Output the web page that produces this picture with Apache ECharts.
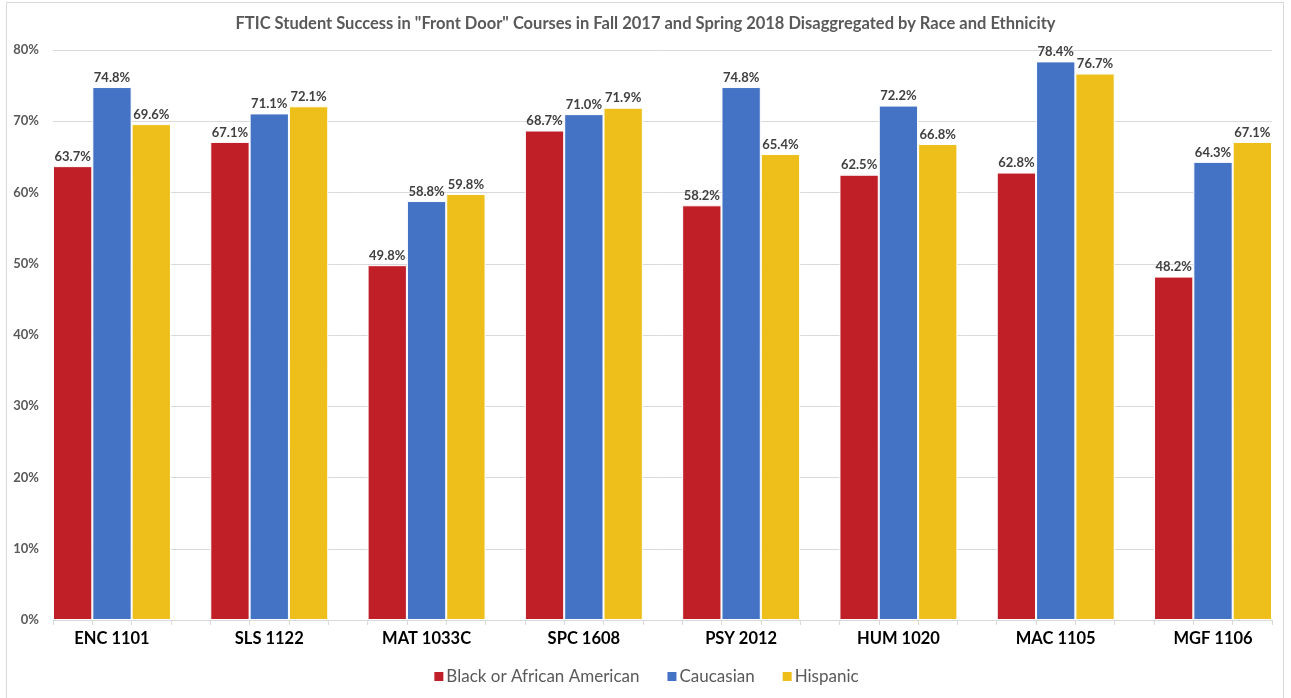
<!DOCTYPE html>
<html>
<head>
<meta charset="utf-8">
<script src="https://cdn.jsdelivr.net/npm/echarts@6/dist/echarts.min.js"></script>
<style>
  html, body { margin: 0; padding: 0; background: #fff; }
  #box { position: absolute; left: 6px; top: 2px; width: 1278px; height: 700px; border: 1px solid #d9d9d9; box-sizing: border-box; }
  #chart { position: absolute; left: 0; top: 0; width: 1291px; height: 698px; }
</style>
</head>
<body>
<div id="box"></div>
<div id="chart"></div>
<script>
const courses = ['ENC 1101', 'SLS 1122', 'MAT 1033C', 'SPC 1608', 'PSY 2012', 'HUM 1020', 'MAC 1105', 'MGF 1106']
const black = [63.7, 67.1, 49.8, 68.7, 58.2, 62.5, 62.8, 48.2]
const caucasian = [74.8, 71.1, 58.8, 71.0, 74.8, 72.2, 78.4, 64.3]
const hispanic = [69.6, 72.1, 59.8, 71.9, 65.4, 66.8, 76.7, 67.1]

const names = ['Black or African American', 'Caucasian', 'Hispanic']
const colors = ['#C11F28', '#4472C4', '#EEBF1B']
const font = 'Lato, "Open Sans", sans-serif'

// each course takes 4 slots on the axis: three bars and an empty one (last course has no empty slot)
const slots = []
courses.forEach((c, i) => {
  slots.push('', c, '')
  if (i < courses.length - 1) slots.push(' ')
})

// put a series' values into its own slot of each course
const spread = (values, offset) => slots.map((s, idx) => {
  const course = Math.floor(idx / 4)
  return idx % 4 === offset ? values[course] : null
})

const chart = echarts.init(document.getElementById('chart'))

const makeSeries = (name, values, offset, color) => ({
  name,
  type: 'bar',
  stack: 'slot',
  data: spread(values, offset),
  barCategoryGap: '0%',
  itemStyle: { color, borderColor: '#fff', borderWidth: 1 },
  label: {
    show: true,
    position: 'top',
    distance: 3,
    formatter: (p) => (p.value == null ? '' : p.value.toFixed(1) + '%'),
    color: '#404040',
    fontFamily: font,
    fontWeight: 'bold',
    fontSize: 13,
  },
})

chart.setOption({
  animation: false,
  title: {
    text: 'FTIC Student Success in "Front Door" Courses in Fall 2017 and Spring 2018 Disaggregated by Race and Ethnicity',
    left: 'center',
    top: 10,
    textStyle: { color: '#595959', fontFamily: font, fontWeight: 'bold', fontSize: 16.5 },
  },
  legend: {
    bottom: 8,
    left: 'center',
    itemWidth: 11,
    itemHeight: 11,
    itemGap: 26,
    icon: 'rect',
    textStyle: { color: '#595959', fontFamily: font, fontSize: 17, padding: [0, 0, 0, -3] },
    data: names,
  },
  grid: { left: 53, right: 19, top: 50, bottom: 78, containLabel: false },
  xAxis: {
    type: 'category',
    data: slots,
    axisLine: { lineStyle: { color: '#d9d9d9' } },
    axisTick: { show: true, interval: 0, length: 5, lineStyle: { color: '#d9d9d9' } },
    axisLabel: { interval: 0, color: '#000', fontFamily: font, fontWeight: 'bold', fontSize: 16.5, margin: 10 },
  },
  yAxis: {
    type: 'value',
    min: 0,
    max: 80,
    interval: 10,
    axisLabel: { formatter: '{value}%', color: '#595959', fontFamily: font, fontWeight: 'bold', fontSize: 13, margin: 14 },
    axisLine: { show: false },
    axisTick: { show: false },
    splitLine: { lineStyle: { color: '#d9d9d9' } },
  },
  series: [
    makeSeries(names[0], black, 0, colors[0]),
    makeSeries(names[1], caucasian, 1, colors[1]),
    makeSeries(names[2], hispanic, 2, colors[2]),
  ],
})
</script>
</body>
</html>
